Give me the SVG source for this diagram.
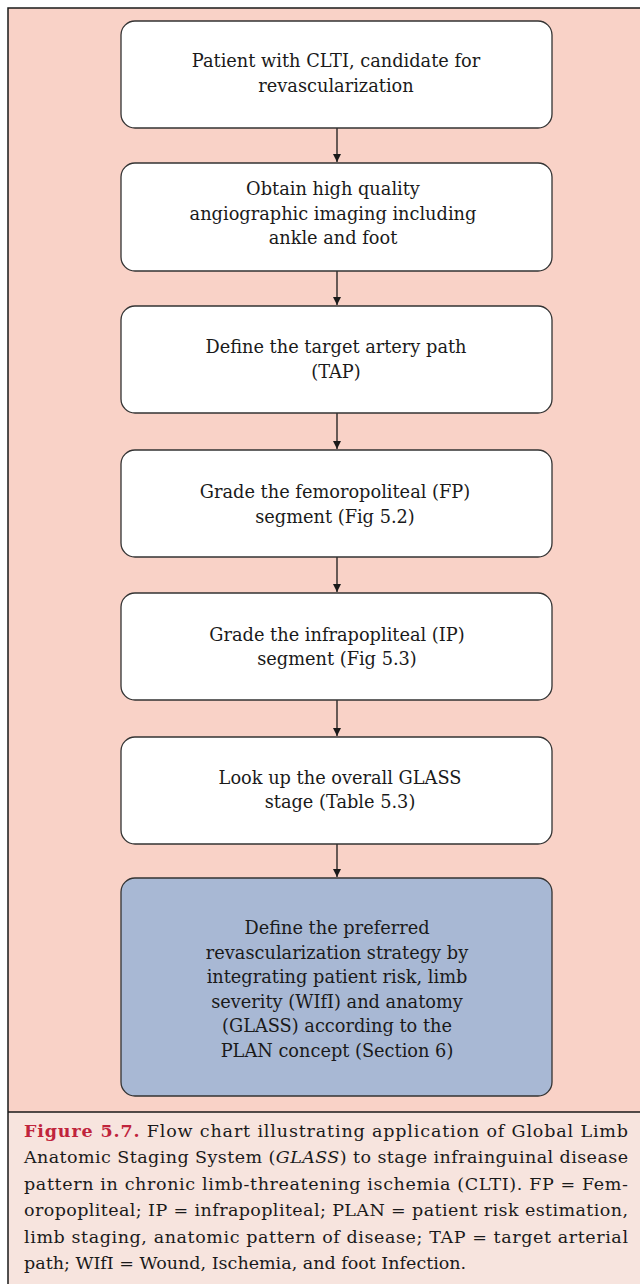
<svg xmlns="http://www.w3.org/2000/svg" width="640" height="1284" viewBox="0 0 640 1284">
<style>
.bg{fill:#F9D2C7}
.cap{fill:#F7E4DE}
.frame{fill:none;stroke:#1a1a1a;stroke-width:1.5}
.box{fill:#ffffff;stroke:#333333;stroke-width:1.3}
.box.blue{fill:#A8B8D4}
.t{font-family:"DejaVu Serif","Liberation Serif",serif;font-size:17.75px;fill:#1a1a1a;text-anchor:middle}
.c{font-family:"DejaVu Serif","Liberation Serif",serif;font-size:17.5px;fill:#1a1a1a}
.fig{fill:#C0243C;font-weight:bold}
.conn{stroke:#1a1a1a;stroke-width:1.3;fill:none}
</style>
<defs>
<marker id="ah" markerWidth="10" markerHeight="10" refX="8" refY="5" orient="auto" markerUnits="userSpaceOnUse">
<path d="M0,1 L8,5 L0,9 Z" fill="#1a1a1a"/>
</marker>
</defs>
<rect x="0" y="0" width="640" height="1284" fill="#ffffff"/>
<rect class="bg" x="8" y="8" width="640" height="1104"/>
<rect class="cap" x="8" y="1112" width="640" height="172"/>
<path class="frame" d="M640,8 L8,8 L8,1284 M8,1112 L640,1112"/>

<g id="connectors">
<line class="conn" x1="337" y1="128" x2="337" y2="162" marker-end="url(#ah)"/>
<line class="conn" x1="337" y1="271" x2="337" y2="305" marker-end="url(#ah)"/>
<line class="conn" x1="337" y1="413" x2="337" y2="449" marker-end="url(#ah)"/>
<line class="conn" x1="337" y1="557" x2="337" y2="592" marker-end="url(#ah)"/>
<line class="conn" x1="337" y1="700" x2="337" y2="736" marker-end="url(#ah)"/>
<line class="conn" x1="337" y1="844" x2="337" y2="877" marker-end="url(#ah)"/>
</g>

<g id="n1">
<rect class="box" x="121" y="21" width="431" height="107" rx="14"/>
<text class="t" x="336" y="67">Patient with CLTI, candidate for</text>
<text class="t" x="336" y="92">revascularization</text>
</g>
<g id="n2">
<rect class="box" x="121" y="163" width="431" height="108" rx="14"/>
<text class="t" x="333" y="195">Obtain high quality</text>
<text class="t" x="333" y="220">angiographic imaging including</text>
<text class="t" x="333" y="244">ankle and foot</text>
</g>
<g id="n3">
<rect class="box" x="121" y="306" width="431" height="107" rx="14"/>
<text class="t" x="336" y="353">Define the target artery path</text>
<text class="t" x="336" y="378">(TAP)</text>
</g>
<g id="n4">
<rect class="box" x="121" y="450" width="431" height="107" rx="14"/>
<text class="t" x="335" y="498">Grade the femoropoliteal (FP)</text>
<text class="t" x="335" y="523">segment (Fig 5.2)</text>
</g>
<g id="n5">
<rect class="box" x="121" y="593" width="431" height="107" rx="14"/>
<text class="t" x="337" y="641">Grade the infrapopliteal (IP)</text>
<text class="t" x="337" y="665">segment (Fig 5.3)</text>
</g>
<g id="n6">
<rect class="box" x="121" y="737" width="431" height="107" rx="14"/>
<text class="t" x="340" y="784">Look up the overall GLASS</text>
<text class="t" x="340" y="808">stage (Table 5.3)</text>
</g>
<g id="n7">
<rect class="box blue" x="121" y="878" width="431" height="218" rx="14"/>
<text class="t" x="337" y="934">Define the preferred</text>
<text class="t" x="337" y="959">revascularization strategy by</text>
<text class="t" x="337" y="983">integrating patient risk, limb</text>
<text class="t" x="337" y="1008">severity (WIfI) and anatomy</text>
<text class="t" x="337" y="1032">(GLASS) according to the</text>
<text class="t" x="337" y="1057">PLAN concept (Section 6)</text>
</g>

<g id="caption">
<text class="c" x="24" y="1137" textLength="604" lengthAdjust="spacing"><tspan class="fig">Figure 5.7.</tspan> Flow chart illustrating application of Global Limb</text>
<text class="c" x="24" y="1163" textLength="604" lengthAdjust="spacing">Anatomic Staging System (<tspan font-style="italic">GLASS</tspan>) to stage infrainguinal disease</text>
<text class="c" x="24" y="1190" textLength="604" lengthAdjust="spacing">pattern in chronic limb-threatening ischemia (CLTI). FP = Fem-</text>
<text class="c" x="24" y="1216" textLength="604" lengthAdjust="spacing">oropopliteal; IP = infrapopliteal; PLAN = patient risk estimation,</text>
<text class="c" x="24" y="1243" textLength="604" lengthAdjust="spacing">limb staging, anatomic pattern of disease; TAP = target arterial</text>
<text class="c" x="24" y="1269">path; WIfI = Wound, Ischemia, and foot Infection.</text>
</g>
</svg>
